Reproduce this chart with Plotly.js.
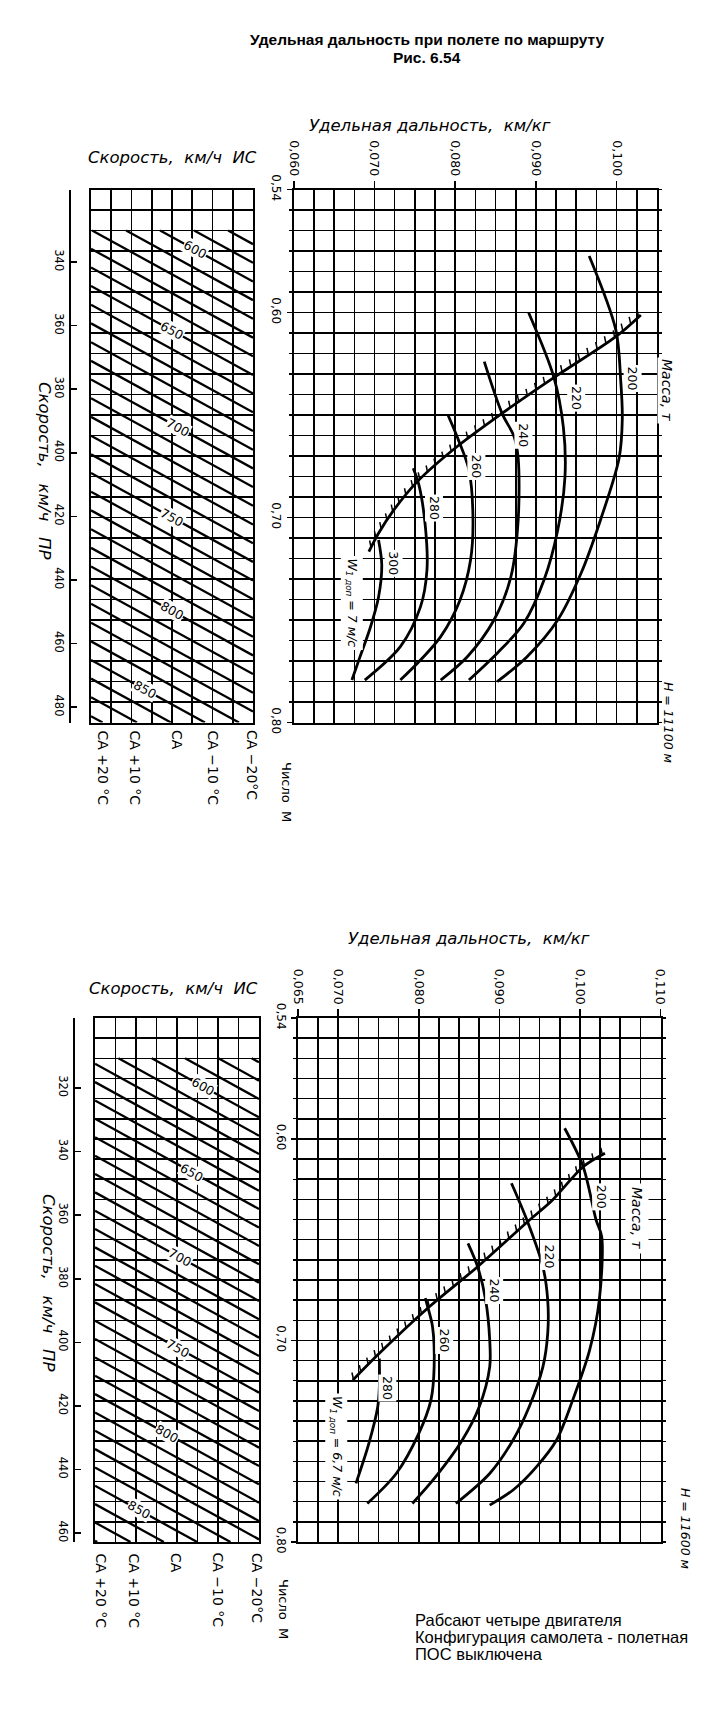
<!DOCTYPE html>
<html><head><meta charset="utf-8">
<script src="https://cdn.plot.ly/plotly-3.0.1.min.js"></script>
<style>body{margin:0;background:#fff}#c{width:701px;height:1713px}</style>
</head><body><div id="c"></div>
<script>
const FIG_W = 701, FIG_H = 1713;

// ===== Upper nomogram (H = 11100 м) =====
const topMass = ['200','220','240','260','280','300'];
const top200SR = [0.0966,0.0999,0.1005,0.1007,0.1003,0.0980,0.0956,0.0927,0.0889,0.0852];
const top200M  = [0.5724,0.6085,0.6329,0.6520,0.6711,0.7012,0.7271,0.7500,0.7679,0.7801];
const top220SR = [0.0891,0.0922,0.0934,0.0936,0.0927,0.0910,0.0885,0.0852,0.0817];
const top220M  = [0.6001,0.6313,0.6560,0.6800,0.7061,0.7305,0.7516,0.7662,0.7793];
const top240SR = [0.0836,0.0858,0.0873,0.0878,0.0878,0.0869,0.0848,0.0815,0.0782];
const top240M  = [0.6240,0.6492,0.6606,0.6711,0.7012,0.7289,0.7500,0.7679,0.7793];
const top260SR = [0.0791,0.0804,0.0817,0.0822,0.0819,0.0806,0.0782,0.0757,0.0732];
const top260M  = [0.6500,0.6622,0.6768,0.7012,0.7207,0.7402,0.7581,0.7695,0.7793];
const top280SR = [0.0748,0.0755,0.0763,0.0765,0.0757,0.0732,0.0688];
const top280M  = [0.6760,0.6841,0.7045,0.7256,0.7435,0.7630,0.7793];
const top300SR = [0.0705,0.0709,0.0705,0.0695,0.0682,0.0672];
const top300M  = [0.7110,0.7232,0.7388,0.7534,0.7680,0.7793];
const topHatchSR = [0.1030,0.0999,0.0924,0.0858,0.0802,0.0753,0.0724,0.0705,0.0693];
const topHatchM  = [0.6012,0.6118,0.6313,0.6492,0.6655,0.6825,0.6963,0.7077,0.7167];
const topMassLabelSR = [0.1020,0.0950,0.0885,0.0826,0.0774,0.0724];
const topMassLabelM  = [0.6321,0.6419,0.6598,0.6752,0.6955,0.7223];
const topSRTicks = [0.060,0.070,0.080,0.090,0.100];
const topTASTicks = [340,360,380,400,420,440,460,480];
const topIAS = [580,590,600,610,620,630,640,650,660,670,680,690,700,710,720,730,740,750,760,770,780,790,800,810,820,830,840,850,860,870,880];
const topIASMach0 = [0.5233,0.5324,0.5415,0.5506,0.5597,0.5689,0.5780,0.5871,0.5962,0.6053,0.6145,0.6236,0.6327,0.6418,0.6509,0.6601,0.6692,0.6783,0.6874,0.6965,0.7057,0.7148,0.7239,0.7330,0.7421,0.7513,0.7604,0.7695,0.7786,0.7877,0.7969];
const topIASSlope = 0.00542;
const topIASLabels = [600,650,700,750,800,850];
const topIASLabelCol = [5.15,4.0,4.3,4.0,4.0,2.67];

// ===== Lower nomogram (H = 11600 м) =====
const botMass = ['200','220','240','260','280'];
const bot200SR = [0.0981,0.1004,0.1020,0.1027,0.1024,0.1012,0.0991,0.0971,0.0946,0.0917,0.0888];
const bot200M  = [0.5947,0.6138,0.6402,0.6485,0.6800,0.7048,0.7296,0.7494,0.7627,0.7742,0.7817];
const bot220SR = [0.0915,0.0935,0.0954,0.0960,0.0960,0.0954,0.0937,0.0917,0.0888,0.0846];
const bot220M  = [0.6220,0.6411,0.6634,0.6800,0.6965,0.7131,0.7329,0.7494,0.7660,0.7809];
const bot240SR = [0.0861,0.0873,0.0883,0.0888,0.0888,0.0875,0.0854,0.0821,0.0792];
const bot240M  = [0.6518,0.6634,0.6800,0.6998,0.7131,0.7329,0.7494,0.7676,0.7809];
const bot260SR = [0.0808,0.0811,0.0817,0.0819,0.0815,0.0800,0.0772,0.0736];
const bot260M  = [0.6790,0.6833,0.6932,0.7131,0.7296,0.7461,0.7660,0.7809];
const bot280SR = [0.0751,0.0751,0.0749,0.0738,0.0722];
const bot280M  = [0.7089,0.7230,0.7329,0.7511,0.7709];
const botHatchSR = [0.1031,0.1004,0.0966,0.0935,0.0873,0.0813,0.0751,0.0718];
const botHatchM  = [0.6071,0.6138,0.6303,0.6411,0.6634,0.6833,0.7064,0.7197];
const botMassLabelSR = [0.1026,0.0962,0.0894,0.0832,0.0761];
const botMassLabelM  = [0.6287,0.6585,0.6750,0.6998,0.7238];
const botSRTicks = [0.065,0.070,0.080,0.090,0.100,0.110];
const botTASTicks = [320,340,360,380,400,420,440,460];
const botIAS = [570,580,590,600,610,620,630,640,650,660,670,680,690,700,710,720,730,740,750,760,770,780,790,800,810,820,830,840,850,860,870,880];
const botIASMach0 = [0.5172,0.5263,0.5354,0.5445,0.5536,0.5627,0.5718,0.5809,0.5900,0.5992,0.6083,0.6174,0.6265,0.6356,0.6447,0.6538,0.6629,0.6720,0.6811,0.6902,0.6993,0.7084,0.7175,0.7266,0.7357,0.7448,0.7539,0.7630,0.7721,0.7812,0.7903,0.7994];
const botIASSlope = 0.0056;
const botIASLabels = [600,650,700,750,800,850];
const botIASLabelCol = [5.28,4.72,4.15,4.06,3.5,2.13];

// shared
const machTicks = [0.54,0.60,0.70,0.80];
const tempLabels = ['СА +20 °С','СА +10 °С','СА','СА −10 °С','СА −20°С'];

// ===== layout geometry =====
const px = v => v / FIG_W;
const py = v => 1 - v / FIG_H;
const BLACK = '#000';
const GRIDW = 1.6;
const fontNum = 'DejaVu Sans, sans-serif';
const fontLbl = 'DejaVu Sans, sans-serif';

function gridX(dom, range, anchor) {   // specific range axis: grid every 0.0025
  return {domain: dom, range: range, anchor: anchor, side: 'top', tick0: range[0], dtick: 0.0025,
    showticklabels: false, ticks: '', showline: true, mirror: true, linecolor: BLACK, linewidth: 2,
    showgrid: true, gridcolor: BLACK, gridwidth: GRIDW, zeroline: false, fixedrange: true};
}
function labelX(over, range, anchor, tickvals) {   // labelled ticks of specific range
  return {overlaying: over, range: range, anchor: anchor, side: 'top', tickvals: tickvals,
    tickformat: '.3f', tickangle: 90, ticks: 'outside', ticklen: 8, tickwidth: 1.6, tickcolor: BLACK,
    tickfont: {family: fontNum, size: 12.5, color: BLACK},
    showline: false, showgrid: false, zeroline: false, fixedrange: true};
}
function gridY(dom, anchor) {   // Mach grid every 0.01
  return {domain: dom, range: [0.80, 0.54], anchor: anchor, tick0: 0.54, dtick: 0.01,
    showticklabels: false, ticks: 'outside', ticklen: 3, tickwidth: 1.4, tickcolor: BLACK,
    showline: true, mirror: 'all', linecolor: BLACK, linewidth: 2,
    showgrid: true, gridcolor: BLACK, gridwidth: GRIDW, zeroline: false, fixedrange: true};
}
function labelY(over, anchor) {
  return {overlaying: over, range: [0.80, 0.54], anchor: anchor, side: 'left', tickvals: machTicks,
    tickformat: '.2f', tickangle: 90, ticks: 'outside', ticklen: 6, tickwidth: 1.6, tickcolor: BLACK,
    tickfont: {family: fontNum, size: 12, color: BLACK},
    showline: false, showgrid: false, zeroline: false, fixedrange: true};
}
function leftX(dom, anchor) {
  return {domain: dom, range: [0, 8], anchor: anchor, dtick: 1, tick0: 0, showticklabels: false,
    ticks: '', showline: true, mirror: true, linecolor: BLACK, linewidth: 2,
    showgrid: true, gridcolor: BLACK, gridwidth: GRIDW, zeroline: false, fixedrange: true};
}
function tasY(dom, range, anchor, tickvals) {
  return {domain: dom, range: range, anchor: anchor, side: 'left', tickvals: tickvals,
    tickangle: 90, ticks: 'inside', ticklen: 6, tickwidth: 1.6, tickcolor: BLACK,
    tickfont: {family: fontNum, size: 11.5, color: BLACK},
    showline: true, linecolor: BLACK, linewidth: 2.2, showgrid: false, zeroline: false, fixedrange: true};
}

const topYdom = [py(722.5), py(189.5)];
const botYdom = [py(1542), py(1018)];
const topSRRange = [0.060, 0.105], botSRRange = [0.065, 0.110];

const layout = {
  width: FIG_W, height: FIG_H, margin: {l: 0, r: 0, t: 0, b: 0},
  paper_bgcolor: '#fff', plot_bgcolor: '#fff', showlegend: false,
  separators: ', ', hovermode: false,
  font: {family: fontLbl, color: BLACK, size: 11},
  xaxis: gridX([px(293.8), px(657)], topSRRange, 'y'),
  xaxis7: labelX('x', topSRRange, 'y', topSRTicks),
  yaxis: gridY(topYdom, 'x'),
  yaxis5: labelY('y', 'x'),
  xaxis3: leftX([px(91), px(253)], 'y'),
  yaxis2: tasY(topYdom, [484.8, 317.2], 'x5', topTASTicks),
  xaxis5: {domain: [px(71), px(88)], anchor: 'y2', visible: false, range: [0, 1], fixedrange: true},
  xaxis2: gridX([px(298), px(660.5)], botSRRange, 'y3'),
  xaxis8: labelX('x2', botSRRange, 'y3', botSRTicks),
  yaxis3: gridY(botYdom, 'x2'),
  yaxis6: labelY('y3', 'x2'),
  xaxis4: leftX([px(95), px(259)], 'y3'),
  yaxis4: tasY(botYdom, [462.8, 298.0], 'x6', botTASTicks),
  xaxis6: {domain: [px(75), px(92)], anchor: 'y4', visible: false, range: [0, 1], fixedrange: true},
  annotations: []
};

// ===== helpers =====
function toPx(ax, ay, x, y) {
  const d = ax.domain, r = ax.range, e = ay.domain, s = ay.range;
  return [FIG_W * (d[0] + (x - r[0]) / (r[1] - r[0]) * (d[1] - d[0])),
          FIG_H * (1 - (e[0] + (y - s[0]) / (s[1] - s[0]) * (e[1] - e[0])))];
}
function fromPx(ax, ay, X, Y) {
  const d = ax.domain, r = ax.range, e = ay.domain, s = ay.range;
  return [r[0] + ((X / FIG_W) - d[0]) / (d[1] - d[0]) * (r[1] - r[0]),
          s[0] + ((1 - Y / FIG_H) - e[0]) / (e[1] - e[0]) * (s[1] - s[0])];
}
const traces = [];
function curve(x, y, xa, ya) {
  traces.push({type: 'scatter', mode: 'lines', x: x, y: y, xaxis: xa, yaxis: ya,
    line: {color: BLACK, width: 2.8, shape: 'spline', smoothing: 0.9}, hoverinfo: 'skip'});
}
function hatch(x, y, xa, ya, axX, axY) {
  curve(x, y, xa, ya);
  const pts = x.map((v, i) => toPx(axX, axY, v, y[i]));
  const hx = [], hy = [];
  const step = 10.5, len = 7;
  let carry = 3;
  for (let i = 0; i < pts.length - 1; i++) {
    const [x0, y0] = pts[i], [x1, y1] = pts[i + 1];
    const L = Math.hypot(x1 - x0, y1 - y0);
    let t = carry;
    while (t <= L) {
      const X = x0 + (x1 - x0) * t / L, Y = y0 + (y1 - y0) * t / L;
      const a = fromPx(axX, axY, X, Y), b = fromPx(axX, axY, X - 1.5, Y - len);
      hx.push(a[0], b[0], null); hy.push(a[1], b[1], null);
      t += step;
    }
    carry = t - L;
  }
  traces.push({type: 'scatter', mode: 'lines', x: hx, y: hy, xaxis: xa, yaxis: ya,
    line: {color: BLACK, width: 1.5}, hoverinfo: 'skip'});
}
function diagonals(m0, slope, xa, ya) {
  const dx = [], dy = [];
  m0.forEach(M0 => {
    const c0 = Math.max(0, (0.56 - M0) / slope), c1 = Math.min(8, (0.80 - M0) / slope);
    if (c1 > c0) { dx.push(c0, c1, null); dy.push(M0 + slope * c0, M0 + slope * c1, null); }
  });
  traces.push({type: 'scatter', mode: 'lines', x: dx, y: dy, xaxis: xa, yaxis: ya,
    line: {color: BLACK, width: 2.3}, hoverinfo: 'skip'});
}
function ghost(xa, ya, x, y) {   // registers an overlay / helper axis pair
  traces.push({type: 'scatter', mode: 'markers', x: [x], y: [y], xaxis: xa, yaxis: ya,
    marker: {opacity: 0, size: 1}, hoverinfo: 'skip'});
}
function A(o) {
  layout.annotations.push(Object.assign({showarrow: false, xanchor: 'center', yanchor: 'middle',
    font: {family: fontLbl, size: 12, color: BLACK}}, o));
}
function paperA(text, X, Y, o) { A(Object.assign({text: text, xref: 'paper', yref: 'paper', x: px(X), y: py(Y)}, o || {})); }

// ===== upper panel traces =====
[[top200SR, top200M], [top220SR, top220M], [top240SR, top240M], [top260SR, top260M],
 [top280SR, top280M], [top300SR, top300M]].forEach(c => curve(c[0], c[1], 'x', 'y'));
hatch(topHatchSR, topHatchM, 'x', 'y', layout.xaxis, layout.yaxis);
diagonals(topIASMach0, topIASSlope, 'x3', 'y');
ghost('x5', 'y2', 0.5, 400);
ghost('x7', 'y', 0.08, 0.7);
ghost('x', 'y5', 0.08, 0.7);

// ===== lower panel traces =====
[[bot200SR, bot200M], [bot220SR, bot220M], [bot240SR, bot240M], [bot260SR, bot260M],
 [bot280SR, bot280M]].forEach(c => curve(c[0], c[1], 'x2', 'y3'));
hatch(botHatchSR, botHatchM, 'x2', 'y3', layout.xaxis2, layout.yaxis3);
diagonals(botIASMach0, botIASSlope, 'x4', 'y3');
ghost('x6', 'y4', 0.5, 400);
ghost('x8', 'y3', 0.08, 0.7);
ghost('x2', 'y6', 0.08, 0.7);

// ===== annotations =====
const boldT = {family: 'Liberation Sans, Arial, sans-serif', size: 15.5, color: BLACK};
paperA('<b>Удельная дальность при полете по маршруту</b>', 427, 40, {font: boldT});
paperA('<b>Рис. 6.54</b>', 427, 57, {font: boldT});

const itF = {family: fontLbl, size: 16.5, color: BLACK};
paperA('<i>Удельная дальность,  км/кг</i>', 430, 125, {font: itF});
paperA('<i>Удельная дальность,  км/кг</i>', 469, 938, {font: itF});
paperA('<i>Скорость,  км/ч  ИС</i>', 172, 157, {font: itF});
paperA('<i>Скорость,  км/ч  ИС</i>', 173, 988, {font: itF});
paperA('<i>Скорость,   км/ч   ПР</i>', 45, 470, {font: itF, textangle: 90});
paperA('<i>Скорость,   км/ч   ПР</i>', 49, 1282, {font: itF, textangle: 90});
const massT = {family: fontLbl, size: 14, color: BLACK};
paperA('<i>Масса, т</i>', 667, 390, {font: massT, textangle: 90, bgcolor: '#fff'});
paperA('<i>Масса, т</i>', 637, 1218, {font: massT, textangle: 90, bgcolor: '#fff', borderpad: 3});
const hF = {family: fontLbl, size: 12.5, color: BLACK};
paperA('<i>H = 11100 м</i>', 669, 722, {font: hF, textangle: 90});
paperA('<i>H = 11600 м</i>', 686, 1528, {font: hF, textangle: 90});
const chF = {family: fontLbl, size: 13, color: BLACK};
paperA('Число  М', 287, 760, {font: chF, textangle: 90, yanchor: 'top'});
paperA('Число  М', 284, 1577, {font: chF, textangle: 90, yanchor: 'top'});

const topTempX = [103, 135, 177, 213, 252];
const botTempX = [101, 134, 176, 218, 257];
const tF = {family: fontNum, size: 14, color: BLACK};
tempLabels.forEach((t, i) => {
  paperA(t, topTempX[i], 728, {font: tF, textangle: 90, yanchor: 'top'});
  paperA(t, botTempX[i], 1551, {font: tF, textangle: 90, yanchor: 'top'});
});

// mass labels on curves
const massF = {family: fontNum, size: 12.5, color: BLACK};
topMass.forEach((t, i) => A({text: t, xref: 'x', yref: 'y', x: topMassLabelSR[i], y: topMassLabelM[i],
  textangle: 90, bgcolor: '#fff', borderpad: 1, font: massF}));
botMass.forEach((t, i) => A({text: t, xref: 'x2', yref: 'y3', x: botMassLabelSR[i], y: botMassLabelM[i],
  textangle: 90, bgcolor: '#fff', borderpad: 1, font: massF}));
const wF = {family: fontLbl, size: 12.5, color: BLACK};
A({text: '<i>W<sub>1 доп</sub> = 7 м/с</i>', xref: 'x', yref: 'y', x: 0.0672, y: 0.7419, textangle: 90,
  bgcolor: '#fff', borderpad: 2, font: wF});
A({text: '<i>W<sub>1 доп</sub> = 6,7 м/с</i>', xref: 'x2', yref: 'y3', x: 0.0697, y: 0.7528, textangle: 90,
  bgcolor: '#fff', borderpad: 2, font: wF});

// IAS labels on the diagonals
const angT = Math.atan(topIASSlope * 2050 / 20.2) * 180 / Math.PI;
const iasF = {family: fontNum, size: 12.5, color: BLACK};
topIASLabels.forEach((v, i) => {
  const c = topIASLabelCol[i], M0 = topIASMach0[topIAS.indexOf(v)];
  A({text: String(v), xref: 'x3', yref: 'y', x: c, y: M0 + topIASSlope * c, textangle: angT,
     bgcolor: '#fff', borderpad: 0, font: iasF});
});
const angB = Math.atan(botIASSlope * 2015 / 20.5) * 180 / Math.PI;
botIASLabels.forEach((v, i) => {
  const c = botIASLabelCol[i], M0 = botIASMach0[botIAS.indexOf(v)];
  A({text: String(v), xref: 'x4', yref: 'y3', x: c, y: M0 + botIASSlope * c, textangle: angB,
     bgcolor: '#fff', borderpad: 0, font: iasF});
});

// footer
const footF = {family: 'Liberation Sans, Arial, sans-serif', size: 16.5, color: BLACK};
paperA('Рабсают четыре двигателя', 413, 1620, {font: footF, xanchor: 'left'});
paperA('Конфигурация самолета - полетная', 413, 1637, {font: footF, xanchor: 'left'});
paperA('ПОС выключена', 413, 1654, {font: footF, xanchor: 'left'});

Plotly.newPlot('c', traces, layout, {staticPlot: true, displayModeBar: false});
</script>
</body></html>
